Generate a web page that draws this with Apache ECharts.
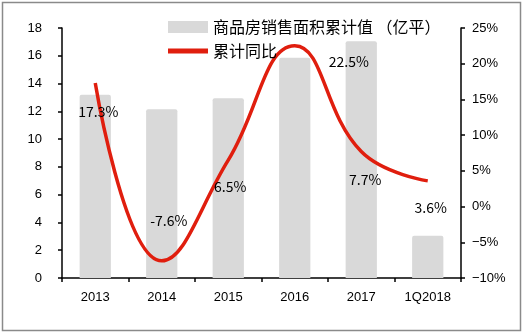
<!DOCTYPE html>
<html>
<head>
<meta charset="utf-8">
<script src="https://cdn.jsdelivr.net/npm/echarts@6/dist/echarts.min.js"></script>
<style>
html,body{margin:0;padding:0;background:#fff;}
#c{width:526px;height:335px;}
</style>
</head>
<body>
<div id="c"></div>
<script>
const categories = ['2013', '2014', '2015', '2016', '2017', '1Q2018'];
const salesArea = [13.2, 12.15, 12.95, 15.85, 17.05, 3.05];
const yoyGrowth = [17.3, -7.6, 6.5, 22.5, 7.7, 3.6];
const leftTicks = { min: 0, max: 18, interval: 2 };
const rightTicks = { min: -10, max: 25, interval: 5 };
const barName = '商品房销售面积累计值 （亿平）';
const lineName = '累计同比';

// label offsets (styling, not data)
const labelOffsets = [[3, 29], [7, -40], [2, 27], [54, 16], [4, 28], [3, 27]];

const cjk = '"Noto Sans CJK SC", "Noto Sans", sans-serif';
const latin = '"Liberation Sans", Arial, sans-serif';

const lineData = yoyGrowth.map((v, i) => ({
  value: v,
  label: { offset: labelOffsets[i] }
}));

const chart = echarts.init(document.getElementById('c'), null, { renderer: 'canvas' });
chart.setOption({
  animation: false,
  backgroundColor: '#fff',
  graphic: [{
    type: 'rect',
    shape: { x: 2.5, y: 2.5, width: 518, height: 328 },
    style: { fill: 'none', stroke: '#8a8a8a', lineWidth: 1.5 },
    silent: true
  }],
  grid: { left: 62, right: 65, top: 28, bottom: 57 },
  legend: {
    orient: 'vertical',
    left: 163,
    top: 14,
    itemWidth: 40,
    itemHeight: 12,
    itemGap: 8,
    textStyle: { fontFamily: cjk, fontSize: 16, color: '#000' },
    data: [
      { name: barName, icon: 'rect' },
      { name: lineName, icon: 'path://M0,0H40V5H0Z' }
    ]
  },
  xAxis: {
    type: 'category',
    data: categories,
    boundaryGap: true,
    axisLine: { lineStyle: { color: '#000', width: 1.5 } },
    axisTick: { show: true, inside: false, length: 4, lineStyle: { color: '#000', width: 1.5 } },
    axisLabel: { color: '#000', fontFamily: latin, fontSize: 13, margin: 13 }
  },
  yAxis: [{
    type: 'value',
    min: leftTicks.min, max: leftTicks.max, interval: leftTicks.interval,
    position: 'left',
    splitLine: { show: false },
    axisLine: { show: true, lineStyle: { color: '#000', width: 1.5 } },
    axisTick: { show: true, length: 4, lineStyle: { color: '#000', width: 1.5 } },
    axisLabel: { color: '#000', fontFamily: latin, fontSize: 13, margin: 20 }
  }, {
    type: 'value',
    min: rightTicks.min, max: rightTicks.max, interval: rightTicks.interval,
    position: 'right',
    splitLine: { show: false },
    axisLine: { show: true, lineStyle: { color: '#000', width: 1.5 } },
    axisTick: { show: true, length: 4, lineStyle: { color: '#000', width: 1.5 } },
    axisLabel: {
      color: '#000', fontFamily: latin, fontSize: 13, margin: 11,
      formatter: v => (v < 0 ? '−' + Math.abs(v) : v) + '%'
    }
  }],
  series: [{
    name: barName,
    type: 'bar',
    yAxisIndex: 0,
    data: salesArea,
    barWidth: '47%',
    itemStyle: { color: '#d9d9d9', borderRadius: [2, 2, 0, 0] }
  }, {
    name: lineName,
    type: 'line',
    yAxisIndex: 1,
    data: lineData,
    smooth: 0.45,
    symbol: 'circle',
    symbolSize: 0.1,
    showSymbol: true,
    itemStyle: { color: '#e01e0e' },
    lineStyle: { color: '#e01e0e', width: 3.5 },
    label: {
      show: true,
      position: 'inside',
      color: '#000',
      fontFamily: cjk,
      fontSize: 14,
      formatter: p => p.value.toFixed(1) + '%'
    },
    z: 3
  }]
});
</script>
</body>
</html>
